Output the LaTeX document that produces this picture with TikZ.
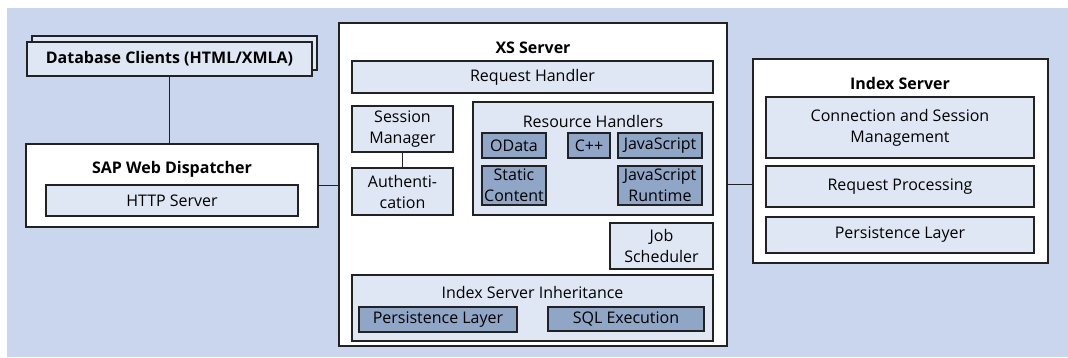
\documentclass[tikz,border=0pt]{standalone}
\usepackage{fontspec}
\setmainfont{Open Sans}
\definecolor{bgblue}{HTML}{C9D6EE}
\definecolor{lightbox}{HTML}{DEE7F3}
\definecolor{darkbox}{HTML}{8FA6C7}
\definecolor{edge}{HTML}{222222}
\begin{document}
\begin{tikzpicture}[x=1pt,y=-1pt,
  every node/.style={inner sep=0pt,outer sep=0pt,font=\fontsize{16}{21}\selectfont,text=black},
  frame/.style={draw=edge,line width=1.4pt,fill=white,anchor=north west},
  lbox/.style={draw=edge,line width=1.1pt,fill=lightbox,anchor=north west,align=center},
  dbox/.style={draw=edge,line width=1.1pt,fill=darkbox,anchor=north west,align=center},
  title/.style={font=\fontsize{16}{21}\selectfont\bfseries},
  conn/.style={draw=edge,line width=1.3pt}]
\useasboundingbox (0,0) rectangle (1068,357);
\fill[bgblue] (7,8) rectangle (1068,357);

% Database clients (stacked)
\node[lbox,minimum width=285pt,minimum height=34pt] (dbback) at (32,36) {};
\node[lbox,minimum width=285pt,minimum height=34pt,title] (db) at (27,42) {Database Clients (HTML/XMLA)};

% SAP Web Dispatcher
\node[frame,minimum width=292pt,minimum height=83pt] (sap) at (26,144) {};
\node[title] (saptitle) at (172,169) {SAP Web Dispatcher};
\node[lbox,minimum width=252pt,minimum height=31pt] (http) at (46,185) {HTTP Server};

% XS Server
\node[frame,minimum width=388pt,minimum height=323pt] (xs) at (339,23) {};
\node[title] (xstitle) at (533,48) {XS Server};
\node[lbox,minimum width=361pt,minimum height=32pt] (rh) at (352,61) {Request Handler};
\node[lbox,minimum width=101pt,minimum height=46pt] (sm) at (352,106) {Session\\Manager};
\node[lbox,minimum width=101pt,minimum height=47pt] (auth) at (352,168) {Authenti-\\cation};
\node[lbox,minimum width=240pt,minimum height=113pt] (res) at (473,102) {};
\node (restitle) at (593,121) {Resource Handlers};
\node[dbox,minimum width=64pt,minimum height=25pt] (odata) at (482,133) {OData};
\node[dbox,minimum width=42pt,minimum height=25pt] (cpp) at (568,133) {C++};
\node[dbox,minimum width=84pt,minimum height=25pt] (js) at (618,133) {JavaScript};
\node[dbox,minimum width=64pt,minimum height=39pt] (static) at (482,166) {Static\\Content};
\node[dbox,minimum width=84pt,minimum height=39pt] (jsrt) at (618,166) {JavaScript\\Runtime};
\node[lbox,minimum width=103pt,minimum height=46pt] (job) at (610,223) {Job\\Scheduler};
\node[lbox,minimum width=361pt,minimum height=66pt] (isi) at (352,275) {};
\node (isititle) at (532.5,292) {Index Server Inheritance};
\node[dbox,minimum width=158pt,minimum height=25pt] (pl) at (359,307) {Persistence Layer};
\node[dbox,minimum width=156pt,minimum height=24pt] (sql) at (548,307) {SQL Execution};

% Index Server
\node[frame,minimum width=295pt,minimum height=204pt] (idx) at (753,59) {};
\node[title] (idxtitle) at (900,83) {Index Server};
\node[lbox,minimum width=268pt,minimum height=61pt] (csm) at (766,97) {Connection and Session\\Management};
\node[lbox,minimum width=268pt,minimum height=41pt] (rp) at (766,166) {Request Processing};
\node[lbox,minimum width=268pt,minimum height=36pt] (ipl) at (766,217) {Persistence Layer};

% connectors
\draw[conn] (db.south) -- (db.south |- sap.north);
\draw[conn] (sap.east) -- (sap.east -| xs.west);
\draw[conn] (xs.east) -- (xs.east -| idx.west);
\draw[conn] (sm.south) -- (auth.north);
\end{tikzpicture}
\end{document}
